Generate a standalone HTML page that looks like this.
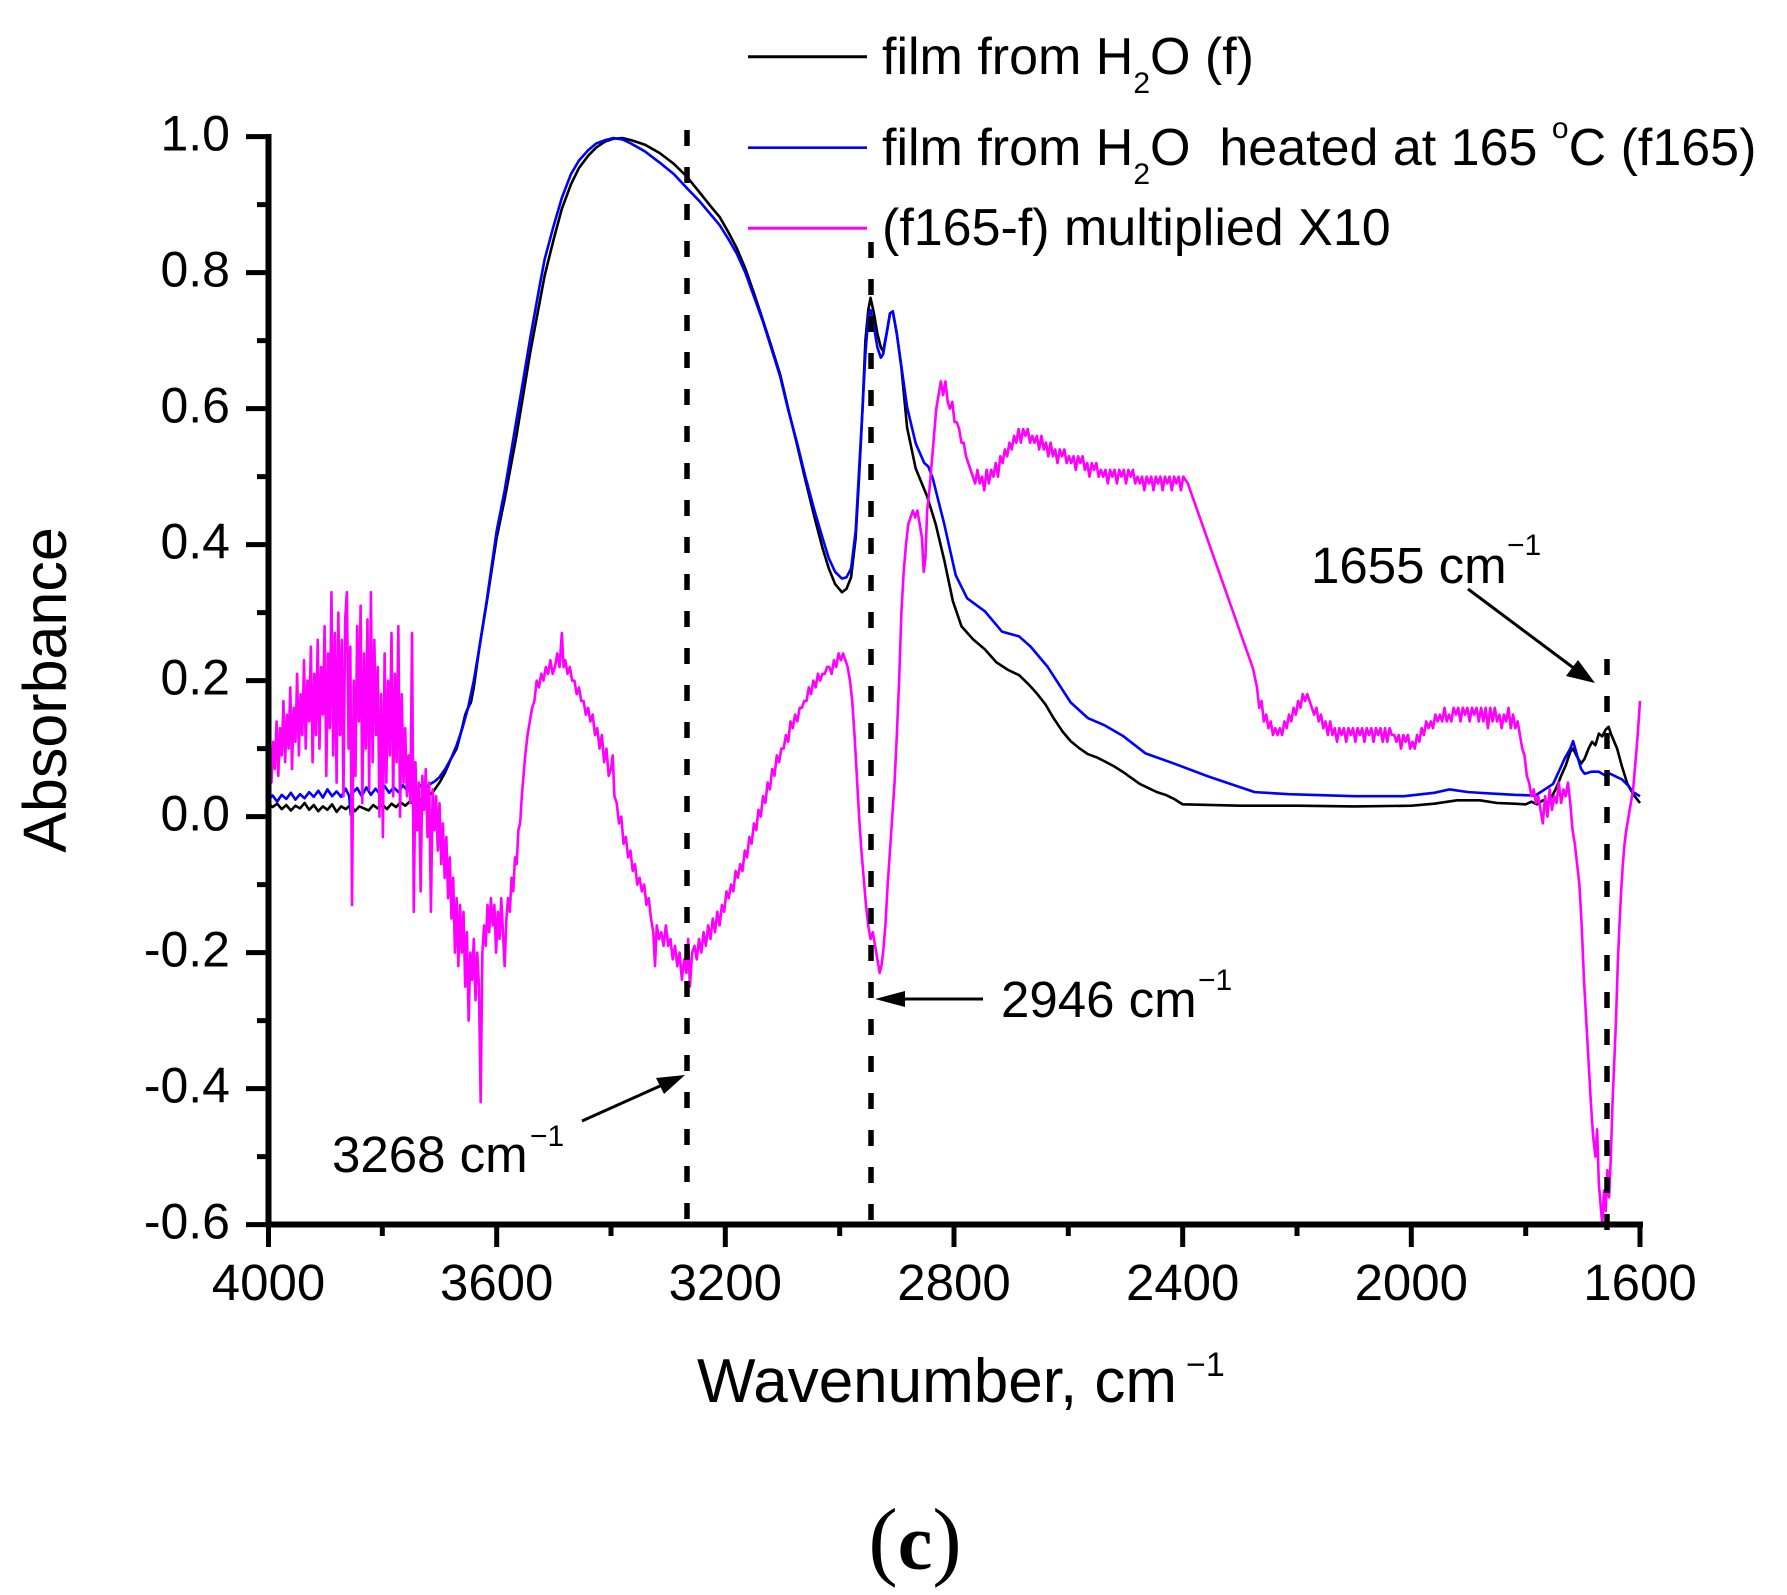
<!DOCTYPE html>
<html>
<head>
<meta charset="utf-8">
<style>
html,body{margin:0;padding:0;background:#fff;}
svg{display:block;}
text{font-family:"Liberation Sans",Arial,sans-serif;fill:#000;}
.cv{fill:none;vector-effect:non-scaling-stroke;stroke-linejoin:round;}
</style>
</head>
<body>
<svg width="1787" height="1595" viewBox="0 0 1787 1595" xmlns="http://www.w3.org/2000/svg">
<rect x="0" y="0" width="1787" height="1595" fill="#fff"/>

<!-- curves in data coordinates -->
<g transform="matrix(-0.571667 0 0 -679.9 2554.67 816.6)">
<polyline class="cv" stroke="#000" stroke-width="2.6" points="4000,0.02 3992,0.014 3984,0.019 3976,0.011 3968,0.017 3960,0.009 3952,0.016 3944,0.012 3936,0.02 3928,0.01 3920,0.017 3912,0.008 3904,0.015 3896,0.01 3888,0.018 3880,0.007 3872,0.015 3864,0.011 3856,0.017 3848,0.008 3840,0.015 3832,0.012 3824,0.009 3816,0.017 3808,0.012 3800,0.018 3792,0.011 3784,0.019 3776,0.014 3768,0.021 3760,0.016 3752,0.022 3744,0.019 3736,0.025 3728,0.024 3720,0.03 3710,0.038 3700,0.05 3690,0.065 3680,0.085 3670,0.1 3662,0.125 3655,0.15 3650,0.16 3645,0.168 3640,0.19 3630,0.25 3617,0.317 3600,0.41 3586,0.467 3566,0.557 3541,0.684 3516,0.796 3500,0.85 3486,0.894 3470,0.93 3456,0.954 3440,0.972 3426,0.984 3410,0.993 3396,0.997 3380,0.998 3365,0.995 3340,0.988 3315,0.976 3290,0.96 3268,0.942 3245,0.918 3225,0.897 3210,0.882 3195,0.86 3180,0.836 3165,0.806 3150,0.77 3135,0.732 3120,0.693 3104,0.65 3090,0.6 3074,0.545 3060,0.495 3044,0.44 3030,0.395 3019,0.365 3008,0.342 2996,0.33 2988,0.335 2980,0.352 2972,0.41 2966,0.5 2960,0.6 2955,0.7 2950,0.745 2946,0.763 2940,0.74 2934,0.71 2928,0.69 2924,0.685 2918,0.71 2912,0.74 2907,0.743 2900,0.71 2892,0.66 2882,0.572 2867,0.512 2847,0.471 2832,0.43 2817,0.377 2802,0.317 2787,0.28 2767,0.261 2746,0.246 2726,0.227 2706,0.216 2686,0.208 2670,0.195 2656,0.182 2640,0.165 2626,0.145 2610,0.125 2596,0.111 2580,0.1 2566,0.092 2550,0.087 2536,0.081 2520,0.074 2505,0.066 2490,0.057 2475,0.048 2460,0.042 2445,0.036 2430,0.032 2415,0.026 2400,0.018 2300,0.016 2200,0.016 2100,0.015 2000,0.016 1960,0.019 1920,0.024 1880,0.024 1850,0.02 1820,0.019 1800,0.018 1790,0.022 1780,0.018 1770,0.024 1760,0.02 1752,0.033 1745,0.045 1738,0.06 1730,0.075 1722,0.095 1717,0.1 1710,0.088 1703,0.078 1697,0.085 1690,0.1 1684,0.11 1678,0.105 1672,0.122 1666,0.118 1660,0.128 1655,0.132 1650,0.12 1645,0.11 1640,0.1 1632,0.075 1622,0.048 1612,0.033 1600,0.02"/>
<polyline class="cv" stroke="#0000ff" stroke-width="2.6" points="4000,0.025 3992,0.031 3984,0.022 3976,0.032 3968,0.026 3960,0.035 3952,0.025 3944,0.033 3936,0.027 3928,0.036 3920,0.029 3912,0.038 3904,0.028 3896,0.04 3888,0.03 3880,0.037 3872,0.029 3864,0.041 3858,0.03 3855,0.002 3852,0.035 3844,0.042 3836,0.03 3828,0.043 3820,0.032 3812,0.041 3804,0.033 3796,0.045 3788,0.035 3780,0.043 3772,0.036 3764,0.046 3756,0.038 3748,0.045 3740,0.04 3732,0.046 3724,0.042 3716,0.048 3708,0.052 3700,0.058 3690,0.07 3680,0.085 3670,0.105 3660,0.13 3650,0.16 3640,0.2 3630,0.25 3617,0.32 3600,0.42 3586,0.48 3566,0.58 3541,0.705 3525,0.78 3516,0.82 3500,0.87 3486,0.91 3470,0.945 3456,0.965 3440,0.98 3426,0.99 3410,0.995 3396,0.998 3380,0.996 3365,0.99 3340,0.978 3315,0.962 3290,0.945 3268,0.925 3245,0.905 3225,0.885 3210,0.87 3195,0.85 3180,0.828 3165,0.8 3150,0.765 3135,0.73 3120,0.69 3104,0.647 3090,0.598 3074,0.548 3060,0.5 3044,0.45 3030,0.41 3019,0.38 3008,0.36 2996,0.35 2988,0.352 2980,0.365 2972,0.42 2966,0.51 2960,0.6 2955,0.68 2950,0.735 2946,0.745 2940,0.72 2934,0.69 2928,0.675 2924,0.68 2918,0.71 2912,0.74 2907,0.743 2900,0.71 2892,0.662 2882,0.602 2867,0.549 2852,0.52 2845,0.515 2837,0.497 2817,0.43 2797,0.355 2777,0.321 2746,0.302 2716,0.272 2686,0.265 2666,0.25 2636,0.22 2596,0.168 2566,0.145 2536,0.134 2505,0.119 2465,0.093 2415,0.078 2355,0.059 2274,0.036 2214,0.033 2100,0.03 2013,0.03 1960,0.035 1933,0.04 1900,0.036 1863,0.034 1820,0.032 1783,0.031 1752,0.048 1740,0.07 1732,0.085 1722,0.1 1717,0.111 1710,0.09 1703,0.07 1697,0.063 1685,0.066 1672,0.066 1660,0.06 1652,0.063 1640,0.058 1632,0.055 1620,0.045 1612,0.036 1600,0.03"/>
<polyline class="cv" stroke="#ff00ff" stroke-width="2.6" points="4000,0.08 3997,0.12 3994,0.05 3991,0.11 3988,0.07 3985,0.14 3982,0.06 3979,0.13 3976,0.09 3973,0.17 3970,0.08 3967,0.15 3964,0.1 3961,0.19 3958,0.07 3955,0.16 3952,0.11 3949,0.21 3946,0.09 3943,0.18 3940,0.12 3937,0.23 3934,0.1 3931,0.2 3928,0.14 3925,0.25 3922,0.08 3919,0.21 3916,0.12 3913,0.26 3910,0.1 3907,0.22 3904,0.15 3901,0.28 3898,0.06 3895,0.24 3892,0.13 3889,0.33 3886,0.09 3883,0.27 3880,0.05 3877,0.3 3874,0.12 3871,0.26 3868,0.03 3865,0.29 3862,0.33 3859,0.1 3856,0.25 3853,-0.13 3850,0.2 3847,0.06 3844,0.28 3841,0.14 3838,0.31 3835,0.02 3832,0.24 3829,0.1 3826,0.29 3823,0.04 3820,0.33 3817,0.08 3814,0.26 3811,0.12 3808,0.22 3805,0 3802,0.18 3799,-0.03 3796,0.24 3793,0.05 3790,0.2 3787,0.09 3784,0.27 3781,0.03 3778,0.21 3775,0.08 3772,0.28 3769,0 3766,0.18 3763,0.05 3760,0.13 3757,0.03 3754,0.09 3751,0.02 3748,0.27 3745,-0.14 3742,0.08 3739,-0.02 3736,0.05 3733,-0.11 3730,0.06 3727,0.01 3724,0.07 3721,-0.03 3718,0.05 3715,-0.14 3712,0.04 3709,-0.02 3706,0.03 3703,-0.05 3700,0.02 3697,-0.07 3694,-0.01 3691,-0.09 3688,-0.03 3685,-0.12 3682,-0.06 3679,-0.15 3676,-0.09 3673,-0.2 3670,-0.12 3667,-0.22 3664,-0.13 3661,-0.2 3658,-0.14 3655,-0.25 3652,-0.17 3649,-0.3 3646,-0.2 3643,-0.24 3640,-0.18 3637,-0.27 3634,-0.2 3631,-0.25 3628,-0.42 3625,-0.2 3622,-0.16 3619,-0.19 3616,-0.13 3613,-0.17 3610,-0.12 3607,-0.16 3604,-0.13 3601,-0.2 3598,-0.14 3595,-0.18 3592,-0.12 3589,-0.17 3586,-0.22 3583,-0.15 3580,-0.12 3577,-0.14 3574,-0.09 3571,-0.11 3568,-0.06 3565,-0.07 3562,-0.02 3559,-0.01 3556,0.03 3553,0.06 3550,0.09 3546,0.12 3542,0.14 3538,0.16 3534,0.17 3530,0.2 3526,0.19 3522,0.21 3518,0.2 3514,0.22 3510,0.21 3506,0.23 3502,0.21 3498,0.22 3494,0.24 3490,0.22 3486,0.27 3483,0.22 3480,0.23 3476,0.21 3472,0.22 3468,0.2 3464,0.2 3460,0.18 3456,0.19 3452,0.17 3448,0.17 3444,0.15 3440,0.16 3436,0.14 3432,0.15 3428,0.12 3424,0.13 3420,0.1 3416,0.12 3412,0.08 3408,0.1 3404,0.06 3400,0.07 3397,0.09 3394,0.03 3390,0.02 3386,-0.01 3382,0 3378,-0.04 3374,-0.03 3370,-0.06 3366,-0.05 3362,-0.08 3358,-0.07 3354,-0.1 3350,-0.09 3346,-0.11 3342,-0.1 3338,-0.13 3334,-0.12 3330,-0.15 3326,-0.17 3323,-0.22 3320,-0.16 3316,-0.18 3312,-0.17 3308,-0.19 3304,-0.16 3300,-0.19 3296,-0.18 3292,-0.21 3288,-0.19 3284,-0.22 3280,-0.2 3276,-0.24 3272,-0.21 3268,-0.23 3265,-0.18 3262,-0.25 3258,-0.2 3254,-0.19 3250,-0.21 3246,-0.18 3242,-0.2 3238,-0.17 3234,-0.19 3230,-0.16 3226,-0.18 3222,-0.15 3218,-0.17 3214,-0.14 3210,-0.16 3206,-0.13 3202,-0.14 3198,-0.11 3194,-0.12 3190,-0.1 3186,-0.11 3182,-0.08 3178,-0.09 3174,-0.07 3170,-0.08 3166,-0.05 3162,-0.06 3158,-0.03 3154,-0.04 3150,-0.01 3146,-0.02 3142,0.01 3138,0 3134,0.03 3130,0.02 3126,0.05 3122,0.04 3118,0.07 3114,0.06 3110,0.09 3106,0.08 3102,0.1 3098,0.1 3094,0.12 3090,0.11 3086,0.14 3082,0.13 3078,0.15 3074,0.14 3070,0.16 3066,0.16 3062,0.17 3058,0.17 3054,0.19 3050,0.18 3046,0.2 3042,0.19 3038,0.21 3034,0.2 3030,0.21 3026,0.21 3022,0.22 3018,0.22 3014,0.21 3010,0.23 3006,0.22 3002,0.24 2998,0.23 2994,0.24 2990,0.23 2986,0.22 2982,0.2 2978,0.17 2974,0.12 2970,0.06 2966,0 2962,-0.05 2958,-0.09 2954,-0.13 2950,-0.16 2946,-0.18 2942,-0.17 2938,-0.19 2934,-0.21 2930,-0.23 2927,-0.22 2924,-0.2 2920,-0.16 2916,-0.1 2912,-0.05 2908,0 2904,0.05 2900,0.12 2896,0.2 2892,0.3 2888,0.36 2884,0.4 2880,0.43 2876,0.44 2872,0.45 2868,0.44 2864,0.45 2860,0.43 2856,0.41 2853,0.36 2850,0.38 2847,0.45 2843,0.48 2839,0.52 2835,0.56 2831,0.6 2827,0.62 2823,0.64 2819,0.62 2815,0.64 2811,0.61 2807,0.6 2803,0.61 2799,0.58 2795,0.58 2791,0.57 2787,0.55 2783,0.55 2779,0.53 2775,0.52 2771,0.51 2767,0.5 2763,0.49 2759,0.51 2755,0.49 2751,0.5 2747,0.48 2743,0.51 2739,0.49 2735,0.51 2731,0.5 2727,0.52 2723,0.5 2719,0.53 2715,0.52 2711,0.54 2707,0.53 2703,0.55 2699,0.54 2695,0.56 2691,0.55 2687,0.57 2683,0.55 2679,0.57 2675,0.56 2671,0.57 2667,0.55 2663,0.56 2659,0.55 2655,0.56 2651,0.54 2647,0.56 2643,0.54 2639,0.55 2635,0.53 2631,0.55 2627,0.53 2623,0.54 2619,0.52 2615,0.54 2611,0.53 2607,0.54 2603,0.52 2599,0.53 2595,0.52 2591,0.53 2587,0.51 2583,0.53 2579,0.52 2575,0.53 2571,0.51 2567,0.52 2563,0.5 2559,0.52 2555,0.51 2551,0.52 2547,0.5 2543,0.51 2539,0.5 2535,0.51 2531,0.49 2527,0.51 2523,0.5 2519,0.51 2515,0.49 2511,0.51 2507,0.5 2503,0.51 2499,0.49 2495,0.51 2491,0.5 2487,0.51 2483,0.49 2479,0.5 2475,0.49 2471,0.5 2467,0.48 2463,0.5 2459,0.49 2455,0.5 2451,0.48 2447,0.5 2443,0.49 2439,0.5 2435,0.48 2431,0.5 2427,0.49 2423,0.5 2419,0.48 2415,0.5 2411,0.49 2407,0.5 2403,0.48 2399,0.5 2391,0.49 2277,0.218 2270,0.19 2266,0.16 2262,0.17 2258,0.14 2254,0.15 2250,0.13 2246,0.14 2242,0.12 2238,0.13 2234,0.12 2230,0.13 2226,0.12 2222,0.14 2218,0.13 2214,0.15 2210,0.14 2206,0.16 2202,0.15 2198,0.17 2194,0.16 2190,0.18 2186,0.17 2182,0.18 2178,0.17 2174,0.16 2170,0.15 2166,0.16 2162,0.14 2158,0.15 2154,0.13 2150,0.14 2146,0.12 2142,0.14 2138,0.12 2134,0.13 2130,0.11 2126,0.13 2122,0.12 2118,0.13 2114,0.11 2110,0.13 2106,0.12 2102,0.13 2098,0.11 2094,0.13 2090,0.12 2086,0.13 2082,0.11 2078,0.13 2074,0.12 2070,0.13 2066,0.11 2062,0.13 2058,0.12 2054,0.13 2050,0.11 2046,0.13 2042,0.11 2038,0.13 2034,0.12 2030,0.12 2026,0.11 2022,0.12 2018,0.1 2014,0.12 2010,0.11 2006,0.12 2002,0.1 1998,0.11 1994,0.1 1990,0.12 1986,0.11 1982,0.13 1978,0.12 1974,0.14 1970,0.13 1966,0.14 1962,0.13 1958,0.15 1954,0.14 1950,0.15 1946,0.14 1942,0.16 1938,0.14 1934,0.15 1930,0.14 1926,0.16 1922,0.15 1918,0.16 1914,0.14 1910,0.16 1906,0.15 1902,0.16 1898,0.14 1894,0.16 1890,0.15 1886,0.16 1882,0.14 1878,0.16 1874,0.14 1870,0.16 1866,0.13 1862,0.16 1858,0.14 1854,0.16 1850,0.14 1846,0.15 1842,0.13 1838,0.15 1834,0.14 1830,0.16 1826,0.13 1822,0.15 1818,0.13 1814,0.14 1810,0.12 1806,0.1 1802,0.09 1798,0.06 1794,0.05 1790,0.03 1786,0.04 1782,0.02 1778,0.03 1774,0.01 1770,-0.01 1766,0.03 1762,0 1758,0.04 1754,0.01 1750,0.03 1746,0.02 1742,0.05 1738,0.02 1734,0.04 1730,0.03 1726,0.05 1722,0.02 1718,-0.02 1714,-0.04 1710,-0.07 1706,-0.1 1702,-0.16 1698,-0.24 1694,-0.3 1690,-0.36 1686,-0.42 1682,-0.47 1678,-0.5 1675,-0.46 1672,-0.54 1669,-0.57 1666,-0.6 1663,-0.55 1660,-0.58 1657,-0.52 1654,-0.56 1651,-0.5 1648,-0.42 1645,-0.36 1642,-0.3 1639,-0.22 1636,-0.16 1633,-0.11 1630,-0.07 1627,-0.04 1624,-0.02 1620,0 1616,0.02 1612,0.04 1608,0.08 1604,0.12 1600,0.17"/>
</g>

<!-- dashed marker lines -->
<g stroke="#000" stroke-width="5.5" stroke-dasharray="16 21" fill="none">
<line x1="687" y1="130" x2="687" y2="1222"/>
<line x1="871" y1="242" x2="871" y2="1222"/>
<line x1="1607" y1="659" x2="1607" y2="1231"/>
</g>

<!-- axes -->
<g stroke="#000" fill="none">
<line x1="268.5" y1="134" x2="268.5" y2="1227.5" stroke-width="6"/>
<line x1="265.5" y1="1224.5" x2="1643" y2="1224.5" stroke-width="6"/>
<path stroke-width="5" d="M246 136.6H268 M246 272.6H268 M246 408.6H268 M246 544.6H268 M246 680.6H268 M246 816.6H268 M246 952.6H268 M246 1088.6H268 M246 1224.6H268"/>
<path stroke-width="5" d="M257 204.6H268 M257 340.6H268 M257 476.6H268 M257 612.6H268 M257 748.6H268 M257 884.6H268 M257 1020.6H268 M257 1156.6H268"/>
<path stroke-width="5" d="M268.5 1224V1247 M496.7 1224V1247 M725.3 1224V1247 M954 1224V1247 M1182.7 1224V1247 M1411.3 1224V1247 M1640 1224V1247"/>
<path stroke-width="5" d="M382.3 1224V1236 M611 1224V1236 M839.7 1224V1236 M1068.3 1224V1236 M1297 1224V1236 M1525.7 1224V1236"/>
</g>

<!-- y tick labels -->
<g font-size="50" text-anchor="end">
<text x="230" y="150.6">1.0</text>
<text x="230" y="286.6">0.8</text>
<text x="230" y="422.6">0.6</text>
<text x="230" y="558.6">0.4</text>
<text x="230" y="694.6">0.2</text>
<text x="230" y="830.6">0.0</text>
<text x="230" y="966.6">-0.2</text>
<text x="230" y="1102.6">-0.4</text>
<text x="230" y="1238.6">-0.6</text>
</g>

<!-- x tick labels -->
<g font-size="51" text-anchor="middle">
<text x="268.5" y="1300">4000</text>
<text x="496.7" y="1300">3600</text>
<text x="725.3" y="1300">3200</text>
<text x="954" y="1300">2800</text>
<text x="1182.7" y="1300">2400</text>
<text x="1411.3" y="1300">2000</text>
<text x="1640" y="1300">1600</text>
</g>

<!-- axis titles -->
<text x="697" y="1402" font-size="62">Wavenumber, cm</text>
<text x="1186" y="1376" font-size="34">−1</text>
<text transform="translate(66,690) rotate(-90)" text-anchor="middle" font-size="61">Absorbance</text>

<!-- legend -->
<line x1="748" y1="56.7" x2="867" y2="56.7" stroke="#000" stroke-width="3"/>
<line x1="748" y1="147.7" x2="867" y2="147.7" stroke="#0000ff" stroke-width="2.6"/>
<line x1="748" y1="228.3" x2="867" y2="228.3" stroke="#ff00ff" stroke-width="3"/>
<text x="882" y="74" font-size="52" xml:space="preserve">film from H<tspan font-size="30" dy="19">2</tspan><tspan dy="-19">O (f)</tspan></text>
<text x="882" y="165" font-size="52" xml:space="preserve">film from H<tspan font-size="30" dy="19">2</tspan><tspan dy="-19">O  heated at 165 </tspan><tspan font-size="30" dy="-27">o</tspan><tspan dy="27">C (f165)</tspan></text>
<text x="882" y="245" font-size="52">(f165-f) multiplied X10</text>

<!-- annotations -->
<g font-size="51">
<text x="1311" y="583">1655 cm</text>
<text x="1001" y="1017">2946 cm</text>
<text x="332" y="1172">3268 cm</text>
</g>
<g font-size="30">
<text x="1507" y="555">−1</text>
<text x="1198" y="990">−1</text>
<text x="530" y="1146">−1</text>
</g>

<!-- arrows -->
<g stroke="#000" stroke-width="3" fill="none">
<line x1="1468" y1="589" x2="1575" y2="669"/>
<line x1="983" y1="999" x2="900" y2="999"/>
<line x1="582" y1="1121" x2="660" y2="1086"/>
</g>
<g fill="#000">
<polygon points="1595,683 1566,676 1578,660"/>
<polygon points="875,999 905,991 905,1007"/>
<polygon points="685,1075 664,1094 656,1078"/>
</g>

<!-- panel label -->
<text x="915" y="1569" text-anchor="middle" style="font-family:'Liberation Serif','Times New Roman',serif;"><tspan font-size="88" style="font-family:'Liberation Serif',serif;font-weight:normal;">(</tspan><tspan font-size="78" style="font-family:'Liberation Serif',serif;font-weight:bold;">c</tspan><tspan font-size="88" style="font-family:'Liberation Serif',serif;font-weight:normal;">)</tspan></text>
</svg>
</body>
</html>
